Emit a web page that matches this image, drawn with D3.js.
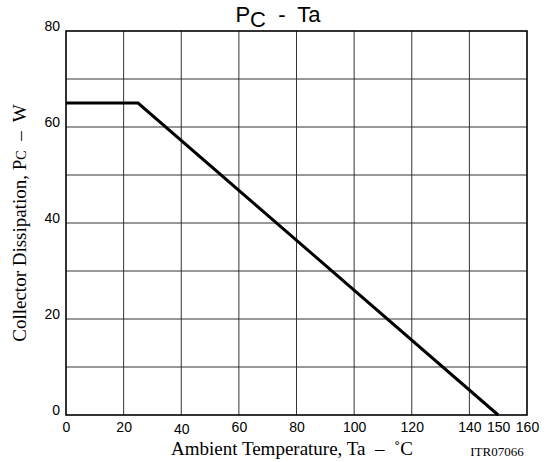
<!DOCTYPE html>
<html>
<head>
<meta charset="utf-8">
<script src="https://cdn.jsdelivr.net/npm/d3@7"></script>
<style>
  body { margin: 0; background: #fff; }
  text { white-space: pre; }
  .tick text { font-family: "Liberation Sans", Arial, sans-serif; font-size: 14px; fill: #000; }
</style>
</head>
<body>
<svg id="chart"></svg>
<script>
// curve: Pc vs Ta
var tempVals = [0, 25, 150];
var powerVals = [65, 65, 0];
var xTickVals = [0, 20, 40, 60, 80, 100, 120, 140, 150, 160];
var xGridVals = [20, 40, 60, 80, 100, 120, 140];
var yTickVals = [0, 20, 40, 60, 80];
var yGridVals = [10, 20, 30, 40, 50, 60, 70];

var svgWidth = 552;
var svgHeight = 462;
var margin = { top: 31, right: 25, bottom: 47, left: 66 };
var chartWidth = svgWidth - margin.left - margin.right;
var chartHeight = svgHeight - margin.top - margin.bottom;

var svg = d3.select("#chart")
    .attr("width", svgWidth)
    .attr("height", svgHeight);

var chart = svg.append("g")
    .attr("transform", "translate(" + margin.left + "," + margin.top + ")");

var xScale = d3.scaleLinear().domain([0, 160]).range([0, chartWidth]);
var yScale = d3.scaleLinear().domain([0, 80]).range([chartHeight, 0]);

// grid
chart.selectAll(".vgrid")
    .data(xGridVals)
    .enter()
    .append("line")
    .attr("x1", function (d) { return xScale(d); })
    .attr("x2", function (d) { return xScale(d); })
    .attr("y1", 0)
    .attr("y2", chartHeight)
    .style("stroke", "#333")
    .style("stroke-width", 1);

chart.selectAll(".hgrid")
    .data(yGridVals)
    .enter()
    .append("line")
    .attr("x1", 0)
    .attr("x2", chartWidth)
    .attr("y1", function (d) { return yScale(d); })
    .attr("y2", function (d) { return yScale(d); })
    .style("stroke", "#333")
    .style("stroke-width", 1);

// frame
chart.append("rect")
    .attr("width", chartWidth)
    .attr("height", chartHeight)
    .style("fill", "none")
    .style("stroke", "#000")
    .style("stroke-width", 1.6);

// axes (labels only)
var xAxis = chart.append("g")
    .attr("transform", "translate(0," + chartHeight + ")")
    .call(d3.axisBottom(xScale).tickValues(xTickVals).tickSize(0).tickPadding(7).tickFormat(d3.format("d")));
xAxis.select(".domain").remove();
// the 40 label sits a little lower in the original
xAxis.selectAll(".tick text").filter(function (d) { return d == 40; }).attr("dy", "0.85em");

var yAxis = chart.append("g")
    .call(d3.axisLeft(yScale).tickValues(yTickVals).tickSize(0).tickPadding(6).tickFormat(d3.format("d")));
yAxis.select(".domain").remove();
yAxis.selectAll(".tick text").attr("dy", "-0.05em");

// curve
var line = d3.line()
    .x(function (d, i) { return xScale(tempVals[i]); })
    .y(function (d, i) { return yScale(powerVals[i]); });

chart.append("path")
    .datum(tempVals)
    .attr("d", line)
    .style("fill", "none")
    .style("stroke", "#000")
    .style("stroke-width", 3);

// title
var title = svg.append("text")
    .attr("x", 278)
    .attr("y", 22)
    .attr("text-anchor", "middle")
    .style("font-family", "Liberation Sans, Arial, sans-serif")
    .style("font-size", "22px");
title.append("tspan").text("P");
title.append("tspan").attr("dy", 5).text("C");
title.append("tspan").attr("dy", -5).text("  -  Ta");

// x label
svg.append("text")
    .attr("x", 292)
    .attr("y", 455)
    .attr("text-anchor", "middle")
    .style("font-family", "Liberation Serif, Times New Roman, serif")
    .style("font-size", "19px")
    .text("Ambient Temperature, Ta  \u2013  \u02DAC");

svg.append("text")
    .attr("x", 497)
    .attr("y", 456)
    .attr("text-anchor", "middle")
    .style("font-family", "Liberation Serif, Times New Roman, serif")
    .style("font-size", "13px")
    .text("ITR07066");

// y label
var yLabel = svg.append("text")
    .attr("transform", "translate(26," + (margin.top + chartHeight / 2) + ") rotate(-90)")
    .attr("text-anchor", "middle")
    .style("font-family", "Liberation Serif, Times New Roman, serif")
    .style("font-size", "19px");
yLabel.append("tspan").text("Collector Dissipation, P");
yLabel.append("tspan").style("font-size", "14px").text("C");
yLabel.append("tspan").text("  \u2013  W");
</script>
</body>
</html>
